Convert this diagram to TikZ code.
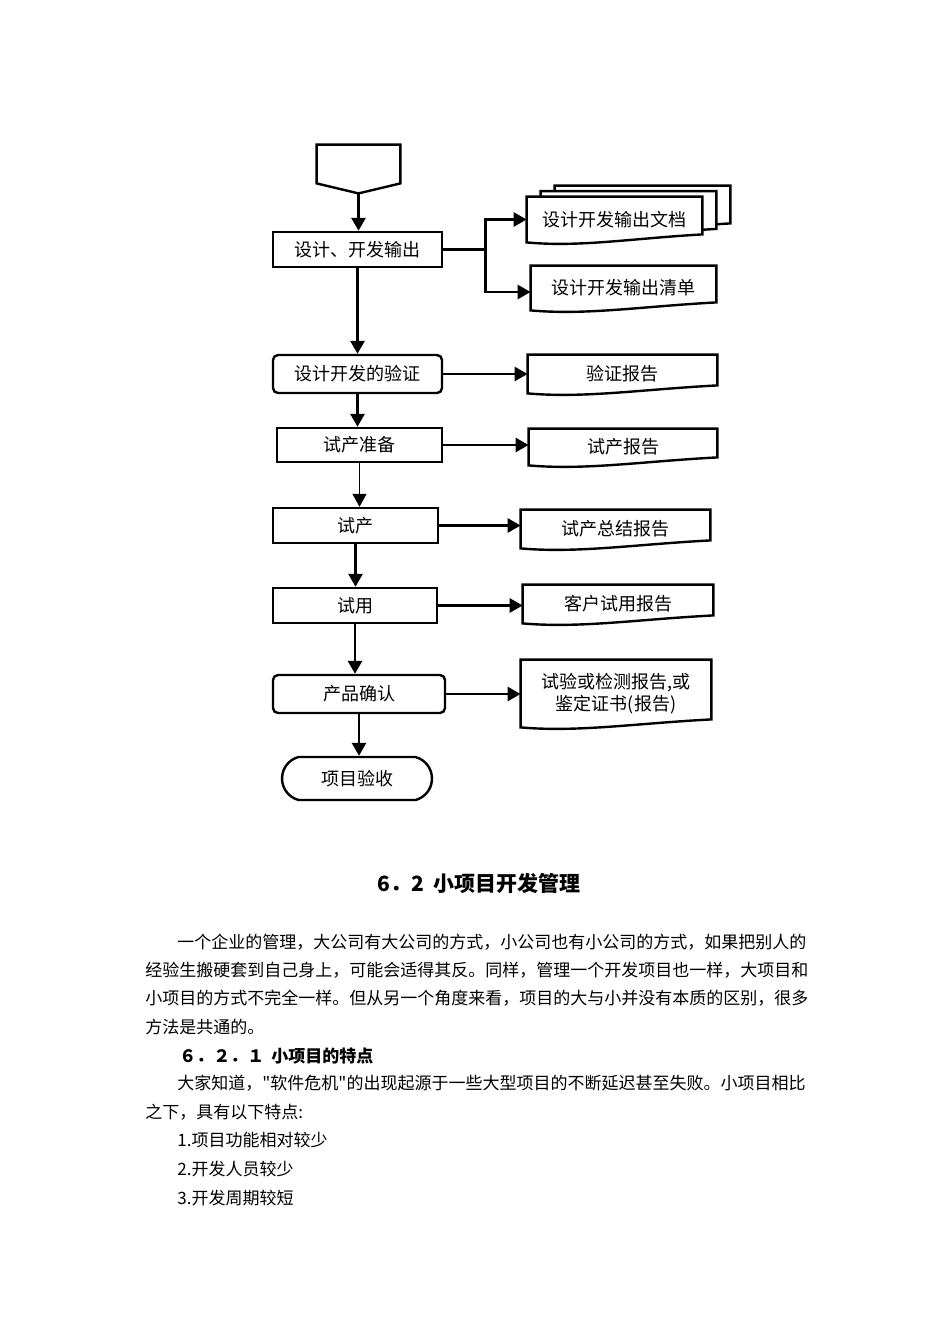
\documentclass[tikz,border=0pt]{standalone}
\usepackage{fontspec}
\newfontfamily\cjk{Noto Sans CJK SC}
\usetikzlibrary{arrows.meta, positioning, calc, backgrounds, shapes.misc}

\begin{document}
\begin{tikzpicture}[
    x=0.5pt, y=-0.5pt,
    % Flow box styles
    stepbox/.style={draw, line width=1.2pt, inner sep=0pt, align=center, font=\cjk\fontsize{9}{11}\selectfont},
    roundbox/.style={stepbox, rounded corners=2.5pt},
    endbox/.style={stepbox, rounded rectangle, rounded rectangle arc length=150},
    docbox/.style={inner sep=0pt, align=center, font=\cjk\fontsize{9}{11}\selectfont},
    docline/.style={line width=1.2pt, fill=white},
    flow/.style={-{Triangle[length=6.5pt, width=7pt]}, line width=1.4pt},
    thinflow/.style={flow, line width=0.7pt},
    % Page text styles
    bodytext/.style={inner sep=0pt, anchor=west, font=\cjk\fontsize{8.5}{10}\selectfont},
    headtext/.style={bodytext, font=\cjk\bfseries\fontsize{8.5}{10}\selectfont},
    titletext/.style={inner sep=0pt, font=\cjk\bfseries\fontsize{10.5}{12}\selectfont}
]
\useasboundingbox (0,0) rectangle (950,1344);

% Off-page connector at top
\node[minimum width=41.5pt, minimum height=24pt, inner sep=0pt] (start_conn) at (358.5,169) {};
\draw[line width=1.2pt] (start_conn.north west) -- (start_conn.north east) -- ([yshift=5pt]start_conn.south east)
    -- (start_conn.south) -- ([yshift=5pt]start_conn.south west) -- cycle;

% Main process boxes
\node[stepbox, minimum width=84.5pt, minimum height=17.5pt] (out_box) at (357.5,249.5) {设计、开发输出};
\node[roundbox, minimum width=84.5pt, minimum height=19pt] (verify_box) at (357.5,374) {设计开发的验证};
\node[stepbox, minimum width=82.5pt, minimum height=17pt] (prep_box) at (359.5,445) {试产准备};
\node[stepbox, minimum width=82.5pt, minimum height=17.5pt] (trial_box) at (355.5,525.5) {试产};
\node[stepbox, minimum width=82pt, minimum height=17.5pt] (use_box) at (355,605.5) {试用};
\node[roundbox, minimum width=86pt, minimum height=19pt] (confirm_box) at (359,694) {产品确认};
\node[endbox, minimum width=75pt, minimum height=21.5pt] (accept_end) at (357,778.5) {项目验收};

% Output documents
\node[docbox, minimum width=87.5pt, minimum height=22.5pt] (out_doc) at (614.5,219.5) {设计开发输出文档};
\node[docbox, minimum width=92.5pt, minimum height=22pt] (list_doc) at (623.5,288) {设计开发输出清单};
\node[docbox, minimum width=94.5pt, minimum height=19pt] (verify_doc) at (622.5,374) {验证报告};
\node[docbox, minimum width=94pt, minimum height=18pt] (prep_doc) at (623,447) {试产报告};
\node[docbox, minimum width=94.5pt, minimum height=19pt] (sum_doc) at (615.5,529) {试产总结报告};
\node[docbox, minimum width=95pt, minimum height=19pt] (user_doc) at (618,604) {客户试用报告};
\node[docbox, minimum width=95pt, minimum height=33.5pt] (test_doc) at (616,693.5) {试验或检测报告,或\\鉴定证书(报告)};

\begin{scope}[on background layer]
% Stacked sheets behind the first document
\foreach \s in {2,1} {
    \draw[docline] ([xshift=\s*7pt, yshift=\s*2.75pt]out_doc.north west) -- ([xshift=\s*7pt, yshift=\s*2.75pt]out_doc.north east)
        -- ([xshift=\s*7pt, yshift=\s*2.75pt+4pt]out_doc.south east)
        .. controls ([xshift=\s*7pt, yshift=\s*2.75pt+2pt]$(out_doc.south west)!0.6!(out_doc.south east)$)
        and ([xshift=\s*7pt, yshift=\s*2.75pt-2.5pt]$(out_doc.south west)!0.3!(out_doc.south east)$)
        .. ([xshift=\s*7pt, yshift=\s*2.75pt]out_doc.south west) -- cycle;
}
% Document outlines with wavy bottom
\foreach \d in {out_doc, list_doc, verify_doc, prep_doc, sum_doc, user_doc, test_doc} {
    \draw[docline] (\d.north west) -- (\d.north east) -- ([yshift=4pt]\d.south east)
        .. controls ([yshift=2pt]$(\d.south west)!0.6!(\d.south east)$)
        and ([yshift=-2.5pt]$(\d.south west)!0.3!(\d.south east)$) .. (\d.south west) -- cycle;
}
\end{scope}

% Main flow
\draw[flow] (start_conn.south) -- (start_conn.south |- out_box.north);
\draw[flow] (out_box.south) -- (out_box.south |- verify_box.north);
\draw[flow] (verify_box.south) -- (verify_box.south |- prep_box.north);
\draw[thinflow] (prep_box.south) -- (prep_box.south |- trial_box.north);
\draw[flow] (trial_box.south) -- (trial_box.south |- use_box.north);
\draw[flow] (use_box.south) -- (use_box.south |- confirm_box.north);
\draw[flow] (confirm_box.south) -- (confirm_box.south |- accept_end.north);

% Branch to the two output documents
\coordinate (split) at ($(out_box.east)+(42,0)$);
\draw[line width=1.4pt] (out_box.east) -- (split);
\draw[flow] (split) |- (out_doc.west);
\draw[flow] (split) |- ([yshift=-2pt]list_doc.west);

% Boxes to their reports
\draw[flow] (verify_box.east) -- (verify_box.east -| verify_doc.west);
\draw[flow] (prep_box.east) -- (prep_box.east -| prep_doc.west);
\draw[flow] (trial_box.east) -- (trial_box.east -| sum_doc.west);
\draw[flow] (use_box.east) -- (use_box.east -| user_doc.west);
\draw[flow] (confirm_box.east) -- (confirm_box.east -| test_doc.west);

% Page text below the chart
\node[titletext] (sec_title) at (479,883) {6．2\hspace{5pt}小项目开发管理};
\node[bodytext] (para1_a) at (177,942) {一个企业的管理，大公司有大公司的方式，小公司也有小公司的方式，如果把别人的};
\node[bodytext] (para1_b) at (145,970) {经验生搬硬套到自己身上，可能会适得其反。同样，管理一个开发项目也一样，大项目和};
\node[bodytext] (para1_c) at (145,998) {小项目的方式不完全一样。但从另一个角度来看，项目的大与小并没有本质的区别，很多};
\node[bodytext] (para1_d) at (145,1027) {方法是共通的。};
\node[headtext] (sub_title) at (179,1056) {６．２．１\hspace{3.5pt}小项目的特点};
\node[bodytext] (para2_a) at (177,1083) {大家知道，"软件危机"的出现起源于一些大型项目的不断延迟甚至失败。小项目相比};
\node[bodytext] (para2_b) at (145,1112) {之下，具有以下特点:};
\node[bodytext] (item1) at (177,1140) {1.项目功能相对较少};
\node[bodytext] (item2) at (177,1169) {2.开发人员较少};
\node[bodytext] (item3) at (177,1198) {3.开发周期较短};

\end{tikzpicture}
\end{document}
